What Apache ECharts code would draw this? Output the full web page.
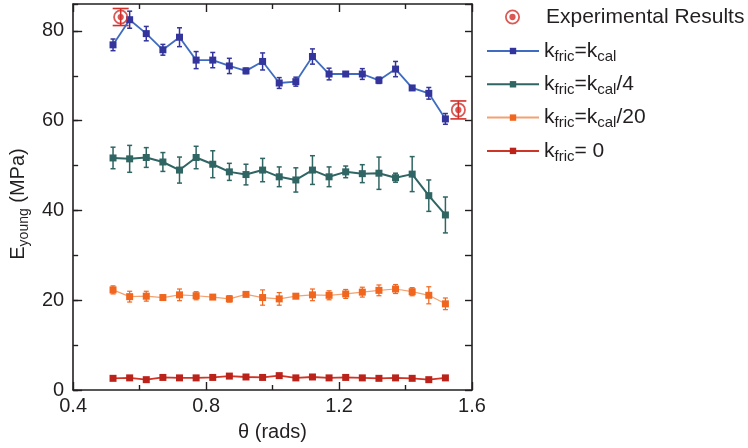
<!DOCTYPE html>
<html><head><meta charset="utf-8">
<script src="https://cdn.jsdelivr.net/npm/echarts@6/dist/echarts.min.js"></script>
<style>html,body{margin:0;padding:0;background:#fff}#c{width:748px;height:448px}</style>
</head><body><div id="c"></div>
<script>
// ---- data ----
const theta = [0.52,0.57,0.62,0.67,0.72,0.77,0.82,0.87,0.92,0.97,1.02,1.07,1.12,1.17,1.22,1.27,1.32,1.37,1.42,1.47,1.52];
const fricCal     = [76.9,82.5,79.4,75.8,78.6,73.5,73.5,72.2,71.1,73.2,68.4,68.7,74.3,70.4,70.4,70.4,69.0,71.5,67.3,66.1,60.4];
const fricCalErr  = [1.3,1.9,1.6,1.2,2.1,1.9,1.7,1.7,0.6,1.9,1.2,1.0,1.7,1.3,0.5,1.2,0.7,1.7,0.4,1.3,1.2];
const fricCal4    = [51.7,51.5,51.8,50.8,49.0,51.8,50.3,48.6,48.0,49.0,47.5,46.8,49.0,47.5,48.6,48.2,48.3,47.3,48.1,43.3,39.0];
const fricCal4Err = [2.4,3.0,2.2,2.1,2.9,2.5,3.0,1.9,2.3,2.6,2.2,2.7,3.2,2.2,1.3,2.0,3.6,1.0,3.9,3.5,4.0];
const fricCal20   = [22.3,20.8,20.9,20.6,21.2,21.0,20.7,20.3,21.3,20.6,20.3,20.9,21.2,21.1,21.4,21.8,22.2,22.5,21.9,21.1,19.2];
const fricCal20Err= [0.9,1.2,1.1,0.5,1.3,0.9,0.4,0.7,0.4,1.7,1.4,0.5,1.3,1.0,1.0,1.1,1.2,1.0,0.9,1.9,1.3];
const fric0       = [2.6,2.7,2.3,2.8,2.7,2.7,2.8,3.1,2.9,2.8,3.2,2.7,2.9,2.7,2.8,2.7,2.6,2.7,2.6,2.3,2.7];
const fric0Err    = [0.3,0.3,0.3,0.3,0.3,0.3,0.3,0.3,0.3,0.3,0.3,0.3,0.3,0.3,0.3,0.3,0.3,0.3,0.3,0.3,0.3];
const expTheta  = [0.543, 1.559];
const expValues = [83.1, 62.4];
const expErr    = [1.9, 2.0];
const xTickLabels = ['0.4','0.8','1.2','1.6'];
const yTickLabels = ['0','20','40','60','80'];

const FONT = 'Liberation Sans, Arial, Helvetica, sans-serif';
const AX = '#231f20';

function pairs(xs, ys){ return xs.map((x,i)=>[x, ys[i]]); }
function errData(xs, ys, es){ return xs.map((x,i)=>[x, ys[i]-es[i], ys[i]+es[i]]); }
function errRenderer(color, capHalf, lw){
  return function(params, api){
    const x = api.value(0), lo = api.value(1), hi = api.value(2);
    const p1 = api.coord([x, lo]), p2 = api.coord([x, hi]);
    const style = {stroke: color, lineWidth: lw};
    return {type:'group', children:[
      {type:'line', shape:{x1:p1[0], y1:p1[1], x2:p2[0], y2:p2[1]}, style: style},
      {type:'line', shape:{x1:p1[0]-capHalf, y1:p1[1], x2:p1[0]+capHalf, y2:p1[1]}, style: style},
      {type:'line', shape:{x1:p2[0]-capHalf, y1:p2[1], x2:p2[0]+capHalf, y2:p2[1]}, style: style}
    ]};
  };
}
function errSeries(xs, ys, es, color, capHalf, lw){
  return {type:'custom', xAxisIndex:0, yAxisIndex:0, data: errData(xs, ys, es),
    encode:{x:0, y:[1,2]}, renderItem: errRenderer(color, capHalf, lw), silent:true, z:3};
}
function lineSeries(name, ys, lineColor, markColor, lw, size){
  return {type:'line', name:name, data: pairs(theta, ys), xAxisIndex:0, yAxisIndex:0,
    symbol:'rect', symbolSize:size, showSymbol:true,
    lineStyle:{color:lineColor, width:lw}, itemStyle:{color:markColor},
    z:4, animation:false};
}

const ringPath = 'path://M12,1A11,11 0 1,1 11.99,1Z M12,3.6A8.4,8.4 0 1,0 12.01,3.6Z M12,7.4A4.6,4.6 0 1,1 11.99,7.4Z';

const names = {
  kcal: '{b|k}{s|fric}{b|=k}{s|cal}',
  kcal4: '{b|k}{s|fric}{b|=k}{s|cal}{b|/4}',
  kcal20: '{b|k}{s|fric}{b|=k}{s|cal}{b|/20}',
  k0: '{b|k}{s|fric}{b|= 0}'
};
const rich = {
  b:{fontSize:21, lineHeight:26, color:AX, fontFamily:FONT},
  s:{fontSize:15, lineHeight:18, verticalAlign:'bottom', color:AX, fontFamily:FONT}
};
const richY = {
  b:{fontSize:20, lineHeight:26, color:AX, fontFamily:FONT},
  s:{fontSize:14, lineHeight:18, verticalAlign:'bottom', color:AX, fontFamily:FONT}
};

const chart = echarts.init(document.getElementById('c'), null, {renderer:'canvas'});
const baseX = {type:'value', min:0.4, max:1.6, splitLine:{show:false}};
const baseY = {type:'value', min:0, max:86, splitLine:{show:false}};
const lineX = {onZero:false, lineStyle:{color:AX, width:1.6}};
chart.setOption({
  animation:false,
  backgroundColor:'#fff',
  textStyle:{fontFamily:FONT},
  grid:{left:70, top:4, width:402, height:386},
  xAxis:[
    Object.assign({}, baseX, {position:'bottom', interval:0.4,
      axisLine:lineX,
      axisTick:{inside:true, length:8, lineStyle:{color:AX, width:1.4}},
      minorTick:{show:true, splitNumber:2, length:5, lineStyle:{color:AX, width:1.4}},
      axisLabel:{color:AX, fontSize:20, margin:6, fontFamily:FONT,
        formatter:function(v){ const s=v.toFixed(1); return xTickLabels.indexOf(s)>=0?s:''; }},
      name:'θ (rads)', nameLocation:'middle', nameGap:32,
      nameTextStyle:{color:AX, fontSize:20, fontFamily:FONT}}),
    Object.assign({}, baseX, {position:'top', interval:0.4,
      axisLine:lineX,
      axisTick:{inside:true, length:8, lineStyle:{color:AX, width:1.4}},
      minorTick:{show:true, splitNumber:2, length:5, lineStyle:{color:AX, width:1.4}},
      axisLabel:{show:false}})
  ],
  yAxis:[
    Object.assign({}, baseY, {position:'left', interval:20,
      axisLine:{show:true, onZero:false, lineStyle:{color:AX, width:1.6}},
      axisTick:{show:true, inside:true, length:9, lineStyle:{color:AX, width:1.4}},
      axisLabel:{color:AX, fontSize:20, margin:9, fontFamily:FONT, showMaxLabel:false,
        formatter:function(v){ const s=String(v); return yTickLabels.indexOf(s)>=0?s:''; }},
      name:'{b|E}{s|young}{b| (MPa)}', nameLocation:'middle', nameGap:41, nameRotate:90,
      nameTextStyle:{rich:richY, padding:[0,14,0,0]}}),
    Object.assign({}, baseY, {position:'left', interval:10, offset:0,
      axisLine:{show:false, onZero:false},
      axisTick:{show:true, inside:true, length:5, lineStyle:{color:AX, width:1.4}},
      axisLabel:{show:false}}),
    Object.assign({}, baseY, {position:'right', interval:10,
      axisLine:{show:true, onZero:false, lineStyle:{color:AX, width:1.6}},
      axisTick:{show:true, inside:true, length:7, lineStyle:{color:AX, width:1.4}},
      axisLabel:{show:false}})
  ],
  legend:[
    {orient:'vertical', left:505, top:4, padding:0, itemWidth:15, itemHeight:15, itemGap:0,
     data:[{name:'Experimental Results', icon:ringPath}],
     textStyle:{fontSize:21, color:AX, fontFamily:FONT, lineHeight:26, padding:[0,0,0,21]}},
    {orient:'vertical', left:486, top:38, padding:0, itemWidth:52, itemHeight:8, itemGap:7.3,
     data:['kcal','kcal4','kcal20','k0'],
     formatter:function(n){ return names[n]; },
     textStyle:{rich:rich, fontSize:21, color:AX, lineHeight:26}}
  ],
  series:[
    lineSeries('kcal', fricCal, '#3f6cc1', '#33359c', 1.8, 7),
    errSeries(theta, fricCal, fricCalErr, '#33359c', 2.5, 1.5),
    lineSeries('kcal4', fricCal4, '#2f6563', '#2f6563', 2, 7),
    errSeries(theta, fricCal4, fricCal4Err, '#2f6563', 2.5, 1.5),
    lineSeries('kcal20', fricCal20, '#f3a170', '#f0661f', 1.2, 7),
    errSeries(theta, fricCal20, fricCal20Err, '#f0661f', 2.5, 1.2),
    lineSeries('k0', fric0, '#cd3527', '#bb2219', 1.8, 7),
    errSeries(theta, fric0, fric0Err, '#bb2219', 2, 1.2),
    errSeries(expTheta, expValues, expErr, '#d2302a', 8, 1.6),
    {type:'scatter', name:'Experimental Results', data: pairs(expTheta, expValues),
     xAxisIndex:0, yAxisIndex:0, symbol:ringPath, symbolSize:15,
     itemStyle:{color:'#d2302a'}, z:5}
  ]
});
</script></body></html>
